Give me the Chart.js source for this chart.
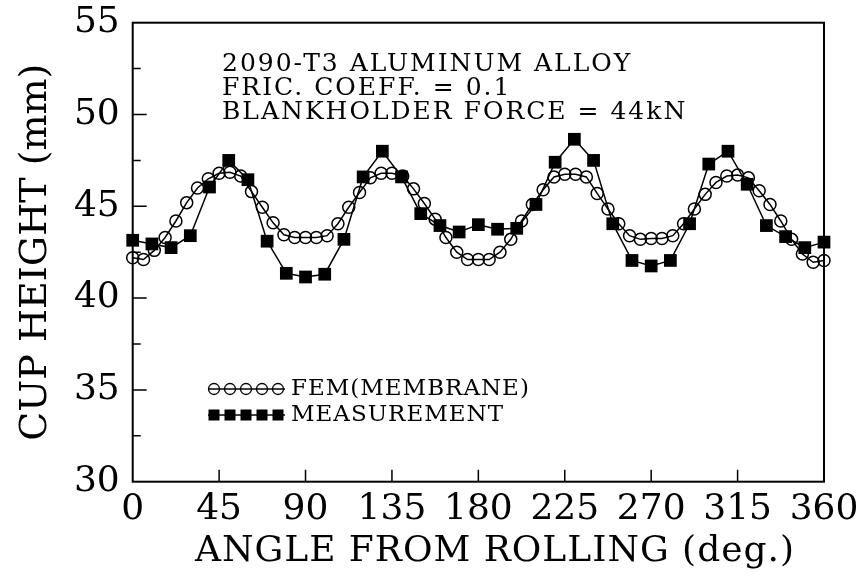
<!DOCTYPE html>
<html>
<head>
<meta charset="utf-8">
<script src="https://cdn.jsdelivr.net/npm/chart.js@4.4.1/dist/chart.umd.min.js"></script>
<style>html,body{margin:0;padding:0;background:#fff}</style>
</head>
<body>
<canvas id="myChart" width="857" height="582"></canvas>
<script>
// FEM (membrane) results, every 360/64 deg
const femAngles = [0, 5.625, 11.25, 16.875, 22.5, 28.125, 33.75, 39.375, 45, 50.625, 56.25, 61.875,
  67.5, 73.125, 78.75, 84.375, 90, 95.625, 101.25, 106.875, 112.5, 118.125, 123.75, 129.375,
  135, 140.625, 146.25, 151.875, 157.5, 163.125, 168.75, 174.375, 180, 185.625, 191.25, 196.875,
  202.5, 208.125, 213.75, 219.375, 225, 230.625, 236.25, 241.875, 247.5, 253.125, 258.75, 264.375,
  270, 275.625, 281.25, 286.875, 292.5, 298.125, 303.75, 309.375, 315, 320.625, 326.25, 331.875,
  337.5, 343.125, 348.75, 354.375, 360];
const femHeight = [42.2, 42.1, 42.6, 43.3, 44.2, 45.2, 46.0, 46.5, 46.8, 46.85, 46.65, 45.8,
  44.95, 44.1, 43.45, 43.3, 43.3, 43.3, 43.4, 44.05, 44.95, 45.75, 46.55, 46.8,
  46.8, 46.65, 45.95, 45.15, 44.3, 43.3, 42.5, 42.1, 42.1, 42.1, 42.5, 43.2,
  44.2, 45.1, 45.9, 46.6, 46.75, 46.75, 46.6, 45.7, 44.85, 44.05, 43.4, 43.2,
  43.25, 43.25, 43.4, 44.05, 44.85, 45.65, 46.3, 46.65, 46.7, 46.55, 45.85, 45.1,
  44.2, 43.2, 42.4, 41.95, 42.05];

// measurement, every 10 deg
const measAngles = [0, 10, 20, 30, 40, 50, 60, 70, 80, 90, 100, 110, 120, 130, 140, 150, 160, 170, 180,
  190, 200, 210, 220, 230, 240, 250, 260, 270, 280, 290, 300, 310, 320, 330, 340, 350, 360];
const measHeight = [43.15, 42.95, 42.75, 43.4, 46.05, 47.5, 46.45, 43.1, 41.35, 41.15, 41.3, 43.2, 46.6,
  48.0, 46.6, 44.6, 43.95, 43.6, 44.0, 43.75, 43.8, 45.1, 47.4, 48.65, 47.5, 44.05, 42.05, 41.75,
  42.05, 44.05, 47.3, 48.0, 46.2, 43.95, 43.35, 42.75, 43.05];

const xTicks = [0, 45, 90, 135, 180, 225, 270, 315, 360];
const yTicks = [30, 35, 40, 45, 50, 55];
const yMinor = [32.5, 37.5, 42.5, 47.5, 52.5];

const noteLines = ['2090-T3 ALUMINUM ALLOY', 'FRIC. COEFF. = 0.1', 'BLANKHOLDER FORCE = 44kN'];
const legendNames = ['FEM(MEMBRANE)', 'MEASUREMENT'];
const xTitle = 'ANGLE FROM ROLLING (deg.)';

const serif = '"DejaVu Serif", "Liberation Serif", serif';

const toXY = (xs, ys) => xs.map((x, i) => ({x: x, y: ys[i]}));

const framePlugin = {
  id: 'frame',
  beforeDatasetsDraw(chart) {
    const {ctx, chartArea: a, scales} = chart;
    ctx.save();
    ctx.strokeStyle = '#000';
    ctx.lineWidth = 2;
    ctx.strokeRect(a.left, a.top, a.right - a.left, a.bottom - a.top);
    ctx.lineWidth = 1.5;
    ctx.beginPath();
    xTicks.slice(1, -1).forEach(v => {
      const px = scales.x.getPixelForValue(v);
      ctx.moveTo(px, a.bottom);
      ctx.lineTo(px, a.bottom - 12);
    });
    yTicks.slice(1, -1).forEach(v => {
      const py = scales.y.getPixelForValue(v);
      ctx.moveTo(a.left, py);
      ctx.lineTo(a.left + 14, py);
    });
    yMinor.forEach(v => {
      const py = scales.y.getPixelForValue(v);
      ctx.moveTo(a.left, py);
      ctx.lineTo(a.left + 8, py);
    });
    ctx.stroke();
    ctx.restore();
  },
  afterDraw(chart) {
    const ctx = chart.ctx;
    ctx.save();
    ctx.fillStyle = '#000';
    ctx.strokeStyle = '#000';
    // notes
    ctx.font = '25px ' + serif;
    ctx.letterSpacing = '2px';
    ctx.textBaseline = 'alphabetic';
    ctx.textAlign = 'left';
    noteLines.forEach((t, i) => ctx.fillText(t, 222, 71 + i * 24));
    // x title
    ctx.font = '36px ' + serif;
    ctx.letterSpacing = '1px';
    ctx.textAlign = 'center';
    ctx.fillText(xTitle, 495, 561);
    // legend
    const rows = [389, 415];
    ctx.textAlign = 'left';
    ctx.lineWidth = 1.3;
    rows.forEach((ry, r) => {
      ctx.beginPath();
      ctx.moveTo(208, ry);
      ctx.lineTo(285, ry);
      ctx.stroke();
      for (let k = 0; k < 5; k++) {
        const cx = 214 + k * 16;
        if (r === 0) {
          ctx.beginPath();
          ctx.arc(cx, ry, 5.5, 0, Math.PI * 2);
          ctx.stroke();
        } else {
          ctx.fillRect(cx - 5.5, ry - 5.5, 11, 11);
        }
      }
      ctx.font = '23px ' + serif;
      ctx.letterSpacing = '1px';
      ctx.textBaseline = 'middle';
      ctx.fillText(legendNames[r], 291, ry);
    });
    ctx.restore();
  }
};

const ctx = document.getElementById('myChart').getContext('2d');
const chart = new Chart(ctx, {
  type: 'line',
  data: {
    datasets: [
      {
        label: legendNames[1],
        data: toXY(measAngles, measHeight),
        borderColor: '#000',
        borderWidth: 1.5,
        backgroundColor: '#000',
        pointStyle: 'rect',
        pointRadius: 9,
        pointBorderWidth: 0,
        pointBackgroundColor: '#000',
        tension: 0,
        clip: false
      },
      {
        label: legendNames[0],
        data: toXY(femAngles, femHeight),
        borderColor: '#000',
        borderWidth: 1.5,
        pointStyle: 'circle',
        pointRadius: 6,
        pointBorderWidth: 1.5,
        pointBorderColor: '#000',
        pointBackgroundColor: 'rgba(255,255,255,0)',
        tension: 0,
        clip: false
      }
    ]
  },
  options: {
    responsive: false,
    animation: false,
    layout: {padding: {left: 0, right: 33, top: 22.7, bottom: 0}},
    plugins: {legend: {display: false}, tooltip: {enabled: false}},
    scales: {
      x: {
        type: 'linear',
        min: 0,
        max: 360,
        afterBuildTicks: (s) => { s.ticks = xTicks.map(v => ({value: v})); },
        afterFit: (s) => { s.height = 100.3; s.paddingLeft = 0; s.paddingRight = 0; },
        grid: {display: false, drawTicks: false},
        border: {display: false},
        ticks: {
          autoSkip: false,
          maxRotation: 0,
          padding: 6,
          color: '#000',
          font: {family: serif, size: 36}
        }
      },
      y: {
        min: 30,
        max: 55,
        afterBuildTicks: (s) => { s.ticks = yTicks.map(v => ({value: v})); },
        afterFit: (s) => { s.width = 132.7; s.paddingTop = 0; s.paddingBottom = 0; },
        grid: {display: false, drawTicks: false},
        border: {display: false},
        ticks: {
          padding: 13,
          color: '#000',
          font: {family: serif, size: 36}
        },
        title: {
          display: true,
          text: 'CUP HEIGHT (mm)',
          color: '#000',
          font: {family: serif, size: 38},
          padding: {top: 13, bottom: 0}
        }
      }
    }
  },
  plugins: [framePlugin]
});
</script>
</body>
</html>
